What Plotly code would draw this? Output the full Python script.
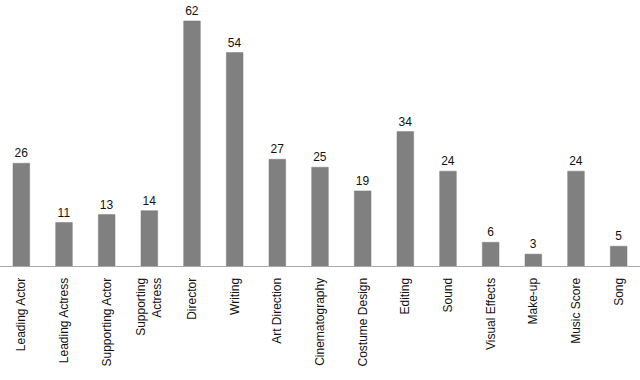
import plotly.graph_objects as go

categories = ["Leading Actor", "Leading Actress", "Supporting Actor", "Supporting<br>Actress",
              "Director", "Writing", "Art Direction", "Cinematography", "Costume Design",
              "Editing", "Sound", "Visual Effects", "Make-up", "Music Score", "Song"]
values = [26, 11, 13, 14, 62, 54, 27, 25, 19, 34, 24, 6, 3, 24, 5]

fig = go.Figure(go.Bar(
    x=categories, y=values,
    marker=dict(color="#808080", line=dict(color="#7a7a7a", width=0.5)),
    text=[str(v) for v in values], textposition="outside", cliponaxis=False,
    textfont=dict(family="Liberation Sans, Arial", size=12, color="#111111"),
))
fig.update_layout(
    width=640, height=380, margin=dict(l=0, r=0, t=0, b=114),
    paper_bgcolor="white", plot_bgcolor="white", bargap=0.61, showlegend=False,
    font=dict(family="Liberation Sans, Arial", size=12, color="#111111"),
)
fig.update_xaxes(tickangle=-90, showline=True, linecolor="#aaaaaa", linewidth=1,
                 ticks="", ticklabelstandoff=6, showgrid=False)
fig.update_yaxes(range=[0, 67.3], visible=False, showgrid=False)
fig.write_html("out.html")
